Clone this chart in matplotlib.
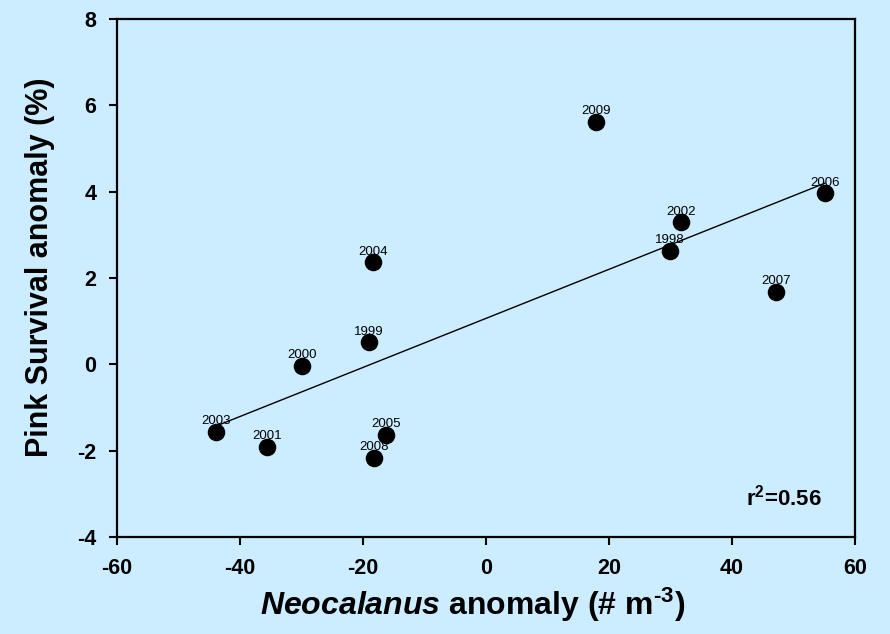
import matplotlib
matplotlib.use("Agg")
import matplotlib.pyplot as plt
import numpy as np

plt.rcParams['font.family'] = ['Liberation Sans', 'DejaVu Sans']
plt.rcParams['axes.unicode_minus'] = False
plt.rcParams['mathtext.fontset'] = 'custom'
plt.rcParams['mathtext.rm'] = 'Liberation Sans:bold'
plt.rcParams['mathtext.bf'] = 'Liberation Sans:bold'
plt.rcParams['mathtext.it'] = 'Liberation Sans:italic:bold'
plt.rcParams['mathtext.default'] = 'bf'

# Neocalanus anomaly vs pink salmon survival anomaly, by year
years = ['1998', '1999', '2000', '2001', '2002', '2003',
         '2004', '2005', '2006', '2007', '2008', '2009']
neocalanus = [29.9, -19.0, -29.9, -35.6, 31.7, -43.9,
              -18.4, -16.3, 55.1, 47.2, -18.2, 17.9]
survival = [2.63, 0.52, -0.03, -1.91, 3.30, -1.56,
            2.37, -1.63, 3.97, 1.68, -2.16, 5.62]

bg = '#CCECFF'
fig = plt.figure(figsize=(8.9, 6.34), dpi=100, facecolor=bg)
ax = fig.add_axes([0.1315, 0.153, 0.829, 0.817], facecolor=bg)

x = np.array(neocalanus)
y = np.array(survival)
ax.scatter(x, y, s=135, color='black', zorder=3)

# least squares line across the range of the data
slope, icept = np.polyfit(x, y, 1)
xs = np.array([x.min(), x.max()])
ax.plot(xs, slope * xs + icept, color='black', lw=1.0, zorder=2)

for yr, xi, yi in zip(years, neocalanus, survival):
    ax.text(xi, yi + 0.17, yr, ha='center', va='baseline', fontsize=9.5)

ax.text(54.6, -3.27, r'r$^{2}$=0.56', ha='right', va='baseline',
        fontsize=16, fontweight='bold')

ax.set_xlim(-60, 60)
ax.set_ylim(-4, 8)
ax.set_xticks(np.arange(-60, 61, 20))
ax.set_yticks(np.arange(-4, 9, 2))
ax.tick_params(direction='out', length=6, width=1.5, labelsize=15.5, pad=9)
for lab in ax.get_xticklabels() + ax.get_yticklabels():
    lab.set_fontweight('bold')
for sp in ax.spines.values():
    sp.set_linewidth(1.6)

# hyphen (U+2010) keeps the exponent as a short dash instead of a math minus
ax.set_xlabel('$\\mathit{Neocalanus}$ anomaly (# m$^{\u2010 3}$)',
              fontsize=23, fontweight='bold')
ax.set_ylabel('Pink Survival anomaly (%)', fontsize=22, fontweight='bold')
ax.xaxis.set_label_coords(0.482, -0.094)
ax.yaxis.set_label_coords(-0.084, 0.521)

fig.savefig('out.png', dpi=100, facecolor=bg)
